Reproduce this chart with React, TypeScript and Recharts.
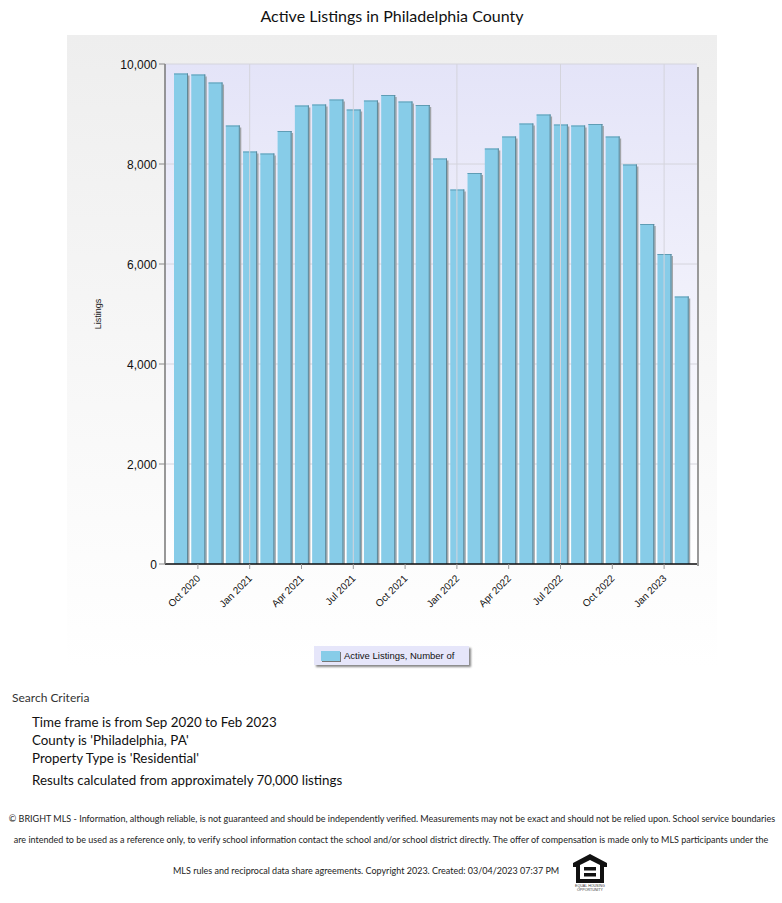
import { Bar, BarChart, CartesianGrid, Legend, ReferenceLine, XAxis, YAxis } from "recharts"

const months = [
  "Sep 2020", "Oct 2020", "Nov 2020", "Dec 2020", "Jan 2021", "Feb 2021", "Mar 2021", "Apr 2021", "May 2021", "Jun 2021",
  "Jul 2021", "Aug 2021", "Sep 2021", "Oct 2021", "Nov 2021", "Dec 2021", "Jan 2022", "Feb 2022", "Mar 2022", "Apr 2022",
  "May 2022", "Jun 2022", "Jul 2022", "Aug 2022", "Sep 2022", "Oct 2022", "Nov 2022", "Dec 2022", "Jan 2023", "Feb 2023",
]
const listings = [
  9810, 9790, 9630, 8770, 8250, 8210, 8660, 9170, 9190, 9290,
  9090, 9270, 9380, 9250, 9180, 8110, 7490, 7820, 8310, 8550,
  8810, 8990, 8790, 8770, 8800, 8550, 7990, 6800, 6200, 5350,
]
const xTicks = ["Oct 2020", "Jan 2021", "Apr 2021", "Jul 2021", "Oct 2021", "Jan 2022", "Apr 2022", "Jul 2022", "Oct 2022", "Jan 2023"]
const gridMonths = ["Jan 2021", "Jul 2021", "Jan 2022", "Jul 2022", "Jan 2023"]
const yTicks = [0, 2000, 4000, 6000, 8000, 10000]
const criteria = ["Time frame is from Sep 2020 to Feb 2023", "County is 'Philadelphia, PA'", "Property Type is 'Residential'"]

const data = months.map((month, i) => ({ month, listings: listings[i] }))

const chartFont = "'Liberation Sans', Arial, sans-serif"
const pageFont = "Lato, sans-serif"

function ShadowBar(props: any) {
  const { x, y, width, height } = props
  return (
    <g>
      <rect x={x + 1.5} y={y + 2} width={width} height={height - 2} fill="#a2a5a8" />
      <rect x={x} y={y} width={width} height={height} fill="#87cce8" />
      <line x1={x} x2={x + width} y1={y + 0.5} y2={y + 0.5} stroke="#5f9db5" />
      <line x1={x + width - 0.5} x2={x + width - 0.5} y1={y} y2={y + height} stroke="#5f8798" />
    </g>
  )
}

function MonthTick(props: any) {
  const { x, y, payload } = props
  return (
    <text x={x + 3} y={y + 8} transform={`rotate(-45 ${x + 3} ${y + 8})`} textAnchor="end" fontSize={10} fill="#111" fontFamily={chartFont}>
      {payload.value}
    </text>
  )
}

function LegendBox(props: any) {
  const item = props.payload?.[0]
  return (
    <div style={{ width: 155, height: 19, background: "#e6e6fa", boxShadow: "2px 2px 2px #888", display: "flex", alignItems: "center", fontFamily: chartFont, fontSize: 9.5, color: "#111" }}>
      <span style={{ width: 19, height: 10, margin: "1px 4px 0 7px", background: "#87cce8", boxShadow: "1px 1px 0 #777" }} />
      {item?.value}
    </div>
  )
}

function HousingLogo() {
  return (
    <svg width={40} height={40} viewBox="0 0 40 40" style={{ position: "absolute", left: 570, top: 853 }}>
      <path d="M20 1 L37 10 V14 H34 V30 H6 V14 H3 V10 Z M10 12 V26 H30 V12 L20 7 Z" fill="#111" fillRule="evenodd" />
      <rect x={14} y={14} width={12} height={3.5} fill="#111" />
      <rect x={14} y={20} width={12} height={3.5} fill="#111" />
      <text x={20} y={34} textAnchor="middle" fontSize={3.6} fill="#333" fontFamily={chartFont}>EQUAL HOUSING</text>
      <text x={20} y={38} textAnchor="middle" fontSize={3.6} fill="#333" fontFamily={chartFont}>OPPORTUNITY</text>
    </svg>
  )
}

const footerStyle = { position: "absolute", left: 0, width: 782, textAlign: "center", fontSize: 9, color: "#222", fontFamily: pageFont, whiteSpace: "nowrap" } as const

export default function App() {
  return (
    <div style={{ position: "absolute", left: 0, top: 0, width: 782, height: 903, background: "#fff", overflow: "hidden" }}>
      <div style={{ position: "absolute", left: 0, top: 6, width: 784, textAlign: "center", fontFamily: pageFont, fontSize: 16, color: "#111" }}>
        Active Listings in Philadelphia County
      </div>
      <div style={{ position: "absolute", left: 67, top: 35, width: 650, height: 632, background: "linear-gradient(#eeeeee, #ffffff)" }} />
      <div style={{ position: "absolute", left: 697, top: 67, width: 2, height: 499, background: "#999" }} />

      <div style={{ position: "absolute", left: 0, top: 0 }}>
        <BarChart
          width={782}
          height={680}
          data={data}
          margin={{ top: 64, right: 85, bottom: 56, left: 105 }}
        >
          <defs>
            <linearGradient id="plotBg" x1="0" y1="0" x2="0" y2="1">
              <stop offset="0%" stopColor="#e4e4f8" />
              <stop offset="100%" stopColor="#ffffff" />
            </linearGradient>
          </defs>
          <CartesianGrid vertical={false} stroke="#d4d4dc" fill="url(#plotBg)" />
          {gridMonths.map((m) => (
            <ReferenceLine key={m} x={m} stroke="#d4d4dc" />
          ))}
          <XAxis
            dataKey="month"
            ticks={xTicks}
            interval={0}
            height={60}
            padding={{ left: 7, right: 7 }}
            tick={<MonthTick />}
            tickSize={5}
            tickLine={{ stroke: "#999" }}
            axisLine={{ stroke: "#111", strokeWidth: 1.5 }}
          />
          <YAxis
            domain={[0, 10000]}
            ticks={yTicks}
            width={60}
            tickSize={6}
            tickLine={{ stroke: "#888" }}
            axisLine={{ stroke: "#777", strokeWidth: 1.5 }}
            tick={{ fontSize: 12, fill: "#111", fontFamily: chartFont, dy: 0.5 }}
            tickFormatter={(v) => v.toLocaleString("en-US")}
            label={{ value: "Listings", angle: -90, position: "insideLeft", offset: -7, textAnchor: "middle", fontSize: 9, fill: "#222", fontFamily: chartFont }}
          />
          <Legend
            layout="horizontal"
            verticalAlign="middle"
            align="center"
            content={<LegendBox />}
            wrapperStyle={{ left: 314, top: 646, width: 155, bottom: "auto" }}
          />
          <Bar dataKey="listings" name="Active Listings, Number of" barSize={14} shape={<ShadowBar />} isAnimationActive={false} />
        </BarChart>
      </div>

      <div style={{ position: "absolute", left: 12, top: 690, fontFamily: pageFont, fontSize: 12, color: "#333" }}>Search Criteria</div>
      <div style={{ position: "absolute", left: 32, top: 713, fontFamily: pageFont, fontSize: 13.35, lineHeight: "18px", color: "#111" }}>
        {criteria.map((c) => (
          <div key={c}>{c}</div>
        ))}
        <div style={{ marginTop: 4 }}>Results calculated from approximately 70,000 listings</div>
      </div>

      <div style={{ ...footerStyle, top: 813, left: 1 }}>
        © BRIGHT MLS - Information, although reliable, is not guaranteed and should be independently verified. Measurements may not be exact and should not be relied upon. School service boundaries
      </div>
      <div style={{ ...footerStyle, top: 834 }}>
        are intended to be used as a reference only, to verify school information contact the school and/or school district directly. The offer of compensation is made only to MLS participants under the
      </div>
      <div style={{ ...footerStyle, left: 173, width: "auto", top: 865 }}>
        MLS rules and reciprocal data share agreements. Copyright 2023. Created: 03/04/2023 07:37 PM
      </div>
      <HousingLogo />
    </div>
  )
}
